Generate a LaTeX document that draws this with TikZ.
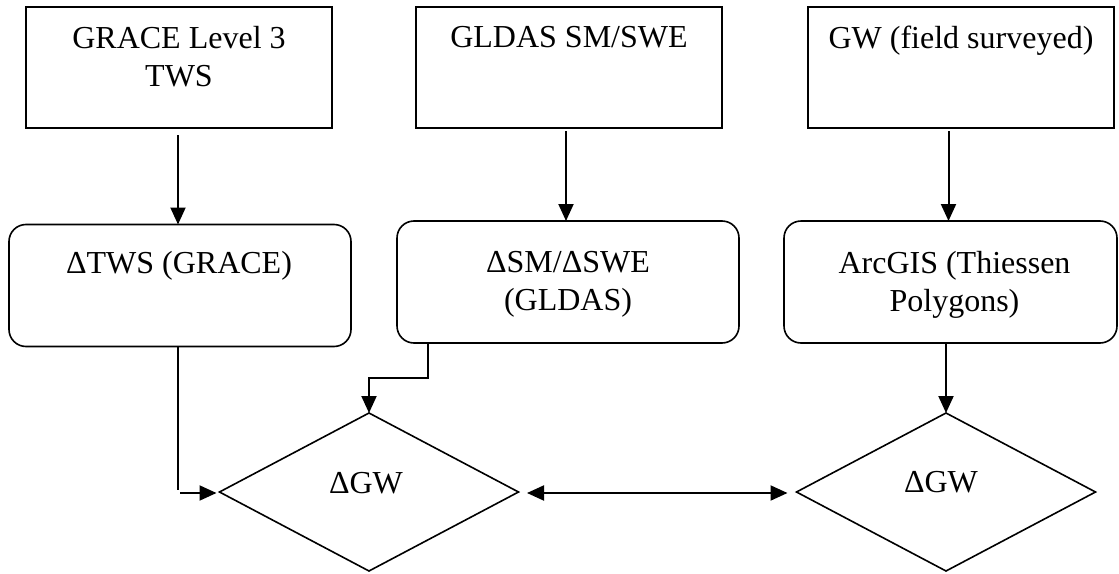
\documentclass[tikz,border=0pt]{standalone}
\usepackage{fontspec}
\setmainfont{Liberation Serif}
\usetikzlibrary{shapes.geometric,arrows.meta,calc}
\begin{document}
\begin{tikzpicture}[x=0.5pt,y=-0.5pt,
  >={Triangle[length=8.5pt,width=7.5pt]},
  every node/.style={inner sep=0pt, outer sep=0pt},
  sqbox/.style={draw, line width=0.8pt, minimum width=153pt, minimum height=60.5pt},
  rbox/.style={draw, line width=0.8pt, rounded corners=8.5pt, minimum width=171pt, minimum height=61pt},
  dia/.style={draw, diamond, line width=0.8pt, minimum width=149.5pt, minimum height=79pt},
  txt/.style={font=\fontsize{16}{19}\selectfont, align=center, anchor=north},
  diatxt/.style={font=\fontsize{16}{19}\selectfont},
  arr/.style={line width=1pt, ->},
  dbl/.style={line width=1pt, <->},
  thinline/.style={line width=0.6pt}
]
\useasboundingbox (0,0) rectangle (1119,573);

% top boxes
\node[sqbox] (b1) at (179,67.5) {};
\node[sqbox] (b2) at (569,67.5) {};
\node[sqbox] (b3) at (961,67.5) {};
\node[txt] (t1) at ($(b1.north)+(0,19)$) {GRACE Level 3\\TWS};
\node[txt] (t2) at ($(b2.north)+(0,19)$) {GLDAS SM/SWE};
\node[txt] (t3) at ($(b3.north)+(0,19)$) {GW (field surveyed)};

% rounded boxes
\node[rbox] (r1) at (180,285.5) {};
\node[rbox] (r2) at (568,282) {};
\node[rbox, minimum width=166.5pt] (r3) at (950.5,282) {};
\node[txt] (u1) at ($(r1.north)+(-1,27)$) {ΔTWS (GRACE)};
\node[txt] (u2) at ($(r2.north)+(0,30)$) {ΔSM/ΔSWE\\(GLDAS)};
\node[txt] (u3) at ($(r3.north)+(4,30)$) {ArcGIS (Thiessen\\Polygons)};

% diamonds
\node[dia] (d1) at (369,492) {};
\node[dia] (d2) at (946,492) {};
\node[diatxt] (g1) at ($(d1.center)+(-3,-9)$) {ΔGW};
\node[diatxt] (g2) at ($(d2.center)+(-5,-10)$) {ΔGW};

% connectors
\draw[arr] ($(b1.south -| r1.north)+(-2,7)$) -- ($(r1.north)+(-2,0)$);
\draw[arr] ($(b2.south -| r2.north)+(-2,3)$) -- ($(r2.north)+(-2,0)$);
\draw[arr] ($(b3.south -| r3.north)+(-2,3)$) -- ($(r3.north)+(-2,0)$);

\coordinate (k1) at ($(r1.south |- d1.west)+(-2,-2)$);
\draw[thinline] ($(r1.south)+(-2,0)$) -- (k1);
\draw[arr, shorten >=1.5pt] ($(r1.south |- d1.west)+(0,1)$) -- ($(d1.west)+(0,1)$);

\draw[arr] ($(r2.south west)+(31,0)$) |- ($(d1.north)+(0,-35)$) -- (d1.north);
\draw[arr] (r3.south -| d2.north) -- (d2.north);
\draw[dbl, shorten <=4.25pt, shorten >=4.5pt] ($(d1.east)+(0,1)$) -- ($(d2.west)+(0,1)$);
\end{tikzpicture}
\end{document}
